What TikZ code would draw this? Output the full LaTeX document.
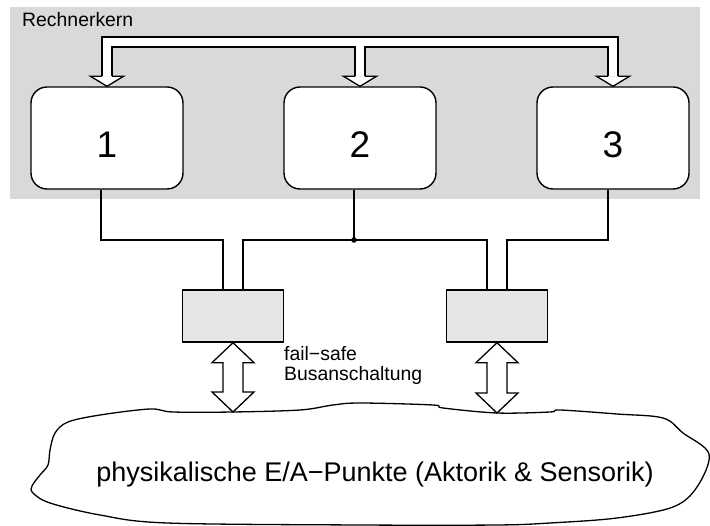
\documentclass[tikz,border=0pt]{standalone}
\usepackage{fontspec}
\setmainfont{Liberation Sans}
\usetikzlibrary{calc}

\definecolor{coregray}{RGB}{217,217,217}
\definecolor{unitgray}{RGB}{229,229,229}

\tikzset{
  core/.style={draw, fill=white, line width=1.4pt, rounded corners=16pt,
    minimum width=152pt, minimum height=102pt, inner sep=0pt,
    font=\fontsize{37}{40}\selectfont, text height=40pt, text depth=0pt},
  busunit/.style={draw, fill=unitgray, line width=1.4pt,
    minimum width=101pt, minimum height=52pt, inner sep=0pt},
  wire/.style={line width=1.3pt},
  busouter/.style={line width=11.3pt, black},
  businner/.style={line width=8.7pt, white},
  arrowbody/.style={draw, fill=white, line width=1.3pt, line join=miter},
  smalltext/.style={font=\fontsize{19.4}{20.5}\selectfont, inner sep=0pt},
}

% hollow double-headed arrow between two points on a vertical line
\newcommand\hollowdbl[2]{%
  \draw[arrowbody] (#1) -- ($(#1)+(21,20)$) -- ($(#1)+(10,20)$)
    -- ($(#2)+(10,-20)$) -- ($(#2)+(21,-20)$) -- (#2)
    -- ($(#2)+(-21,-20)$) -- ($(#2)+(-10,-20)$)
    -- ($(#1)+(-10,20)$) -- ($(#1)+(-21,20)$) -- cycle;}

\begin{document}
\begin{tikzpicture}[x=1pt,y=-1pt]
\useasboundingbox (0,0) rectangle (710,526);

% processor core area
\fill[coregray] (10,7) rectangle (700,199);
\node[anchor=base west, smalltext] (title) at (22,27) {Rechnerkern};

% the three cores
\node[core] (c1) at (107,138) {1};
\node[core] (c2) at (360,138) {2};
\node[core] (c3) at (613,138) {3};

% internal bus feeding the cores
\coordinate (busy) at (0,42);
\coordinate (h1) at ($(c1.north)+(0,-10)$);
\coordinate (h2) at ($(c2.north)+(0,-10)$);
\coordinate (h3) at ($(c3.north)+(0,-10)$);
\draw[busouter] (h1) -- (h1 |- busy) -- (h3 |- busy) -- (h3);
\draw[busouter] (h2 |- busy) -- (h2);
\draw[businner] (h1) -- (h1 |- busy) -- (h3 |- busy) -- (h3);
\draw[businner] (h2 |- busy) -- (h2);
\foreach \k in {1,2,3}{
  \draw[arrowbody] ($(h\k)+(-5,0)$) -- ($(h\k)+(-16.5,0)$) -- (c\k.north)
    -- ($(h\k)+(16.5,0)$) -- ($(h\k)+(5,0)$);
}

% fail-safe bus couplers
\node[busunit] (b1) at (233,316) {};
\node[busunit] (b2) at (497,316) {};

% wiring from the cores to the couplers
\coordinate (rail) at (0,240);
\coordinate (p1) at ($(c1.south)+(-6,0)$);
\coordinate (p2) at ($(c2.south)+(-6,0)$);
\coordinate (p3) at ($(c3.south)+(-5,0)$);
\coordinate (q1) at ($(b1.north)+(-10,0)$);
\coordinate (q2) at ($(b1.north)+(10,0)$);
\coordinate (q3) at ($(b2.north)+(-10,0)$);
\coordinate (q4) at ($(b2.north)+(10,0)$);
\draw[wire] (p1) |- (q1 |- rail) -- (q1);
\draw[wire] (q2) |- (q3 |- rail) -- (q3);
\draw[wire] (p2) -- (p2 |- rail);
\fill (p2 |- rail) circle (2.8);
\draw[wire] (p3) |- (q4 |- rail) -- (q4);

\node[anchor=base west, align=left, smalltext] (fs) at (284,381)
  {fail−safe\\Busanschaltung};

% field level
\draw[line width=1.3pt, fill=white] plot[smooth cycle, tension=0.55] coordinates {
  (68,422) (100,415) (150,409) (173,412) (233,412) (300,410) (333,405)
  (360,403) (433,405) (443,408) (497,413) (550,412) (560,410) (617,414)
  (663,418) (683,433) (709,454) (697,487) (673,507) (617,518) (550,523)
  (497,525) (360,525) (167,523) (100,515) (50,503) (33,493) (32,486)
  (40,475) (48,465) (50,450) (55,433)};
\node[anchor=base, font=\fontsize{27}{30}\selectfont, inner sep=0pt] (io)
  at (375,482) {physikalische E/A−Punkte (Aktorik \& Sensorik)};

\coordinate (e1) at (b1.south |- 0,412);
\coordinate (e2) at (b2.south |- 0,413);
\hollowdbl{b1.south}{e1}
\hollowdbl{b2.south}{e2}
\end{tikzpicture}
\end{document}
